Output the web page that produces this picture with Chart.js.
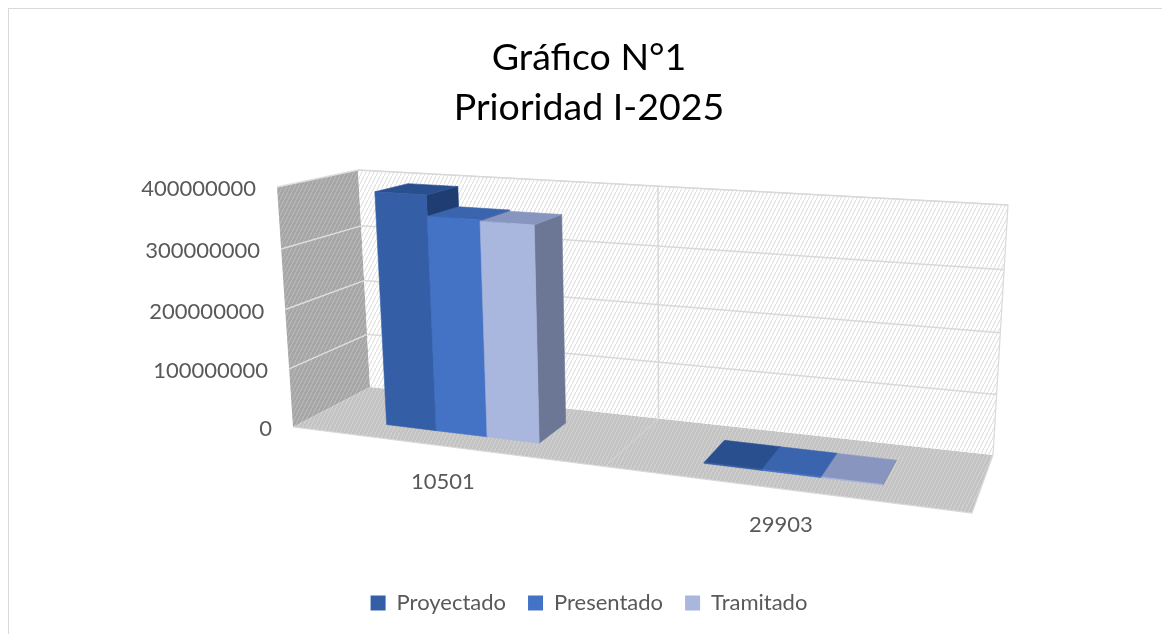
<!DOCTYPE html>
<html>
<head>
<meta charset="utf-8">
<script src="https://cdn.jsdelivr.net/npm/chart.js@4.4.1/dist/chart.umd.min.js"></script>
<style>
  body { margin: 0; background: #fff; }
  #frame { position: absolute; left: 8px; top: 8px; width: 1200px; height: 700px; border: 1px solid #d9d9d9; }
  #chart { position: absolute; left: 0; top: 0; }
</style>
</head>
<body>
<div id="frame"></div>
<canvas id="chart" width="1162" height="634"></canvas>
<script>
const categories = ['10501', '29903'];
const seriesNames = ['Proyectado', 'Presentado', 'Tramitado'];
const proyectado = [392000000, 1500000];
const presentado = [358000000, 1300000];
const tramitado = [356000000, 1100000];
const yTicks = [0, 100000000, 200000000, 300000000, 400000000];
const titleLines = ['Gráfico N°1', 'Prioridad I-2025'];

const frontColors = ['#345EA6', '#4472C4', '#A9B6DE'];
const topColors = ['#2A4F8F', '#3A64AD', '#8896BF'];
const sideColors = ['#1F3D70', '#2F5597', '#6B7794'];
const textGrey = '#595959';

// where the front and back planes of the plot box land on the page (TL, TR, BR, BL)
const frontQuad = [[277, 187], [988, 233], [972, 513], [293, 427]];
const backQuad = [[358, 170], [1008, 205], [993, 455], [370, 387]];
const barDepth = [0.28, 0.72];

// unit square -> quad (projective)
function squareToQuad(q) {
    const x0 = q[0][0], y0 = q[0][1], x1 = q[1][0], y1 = q[1][1];
    const x2 = q[2][0], y2 = q[2][1], x3 = q[3][0], y3 = q[3][1];
    const dx1 = x1 - x2, dx2 = x3 - x2, dx3 = x0 - x1 + x2 - x3;
    const dy1 = y1 - y2, dy2 = y3 - y2, dy3 = y0 - y1 + y2 - y3;
    const den = dx1 * dy2 - dx2 * dy1;
    const g = (dx3 * dy2 - dx2 * dy3) / den;
    const h = (dx1 * dy3 - dx3 * dy1) / den;
    const a = x1 - x0 + g * x1, b = x3 - x0 + h * x3, c = x0;
    const d = y1 - y0 + g * y1, e = y3 - y0 + h * y3, f = y0;
    return function(u, v) {
        const w = g * u + h * v + 1;
        return [(a * u + b * v + c) / w, (d * u + e * v + f) / w];
    };
}

const toFront = squareToQuad(frontQuad);
const toBack = squareToQuad(backQuad);

function projector(area) {
    return function(x, y, z) {
        const u = (x - area.left) / (area.right - area.left);
        const v = (y - area.top) / (area.bottom - area.top);
        const p = toFront(u, v), q = toBack(u, v);
        return [p[0] + (q[0] - p[0]) * z, p[1] + (q[1] - p[1]) * z];
    };
}

function hatch(ctx, bg, fg) {
    const c = document.createElement('canvas');
    c.width = 4;
    c.height = 8;
    const g = c.getContext('2d');
    g.fillStyle = bg;
    g.fillRect(0, 0, 4, 8);
    g.strokeStyle = fg;
    g.lineWidth = 1.2;
    g.beginPath();
    g.moveTo(-1, 10);
    g.lineTo(5, -2);
    g.stroke();
    return ctx.createPattern(c, 'repeat');
}

function face(ctx, pts, fill, edge) {
    ctx.beginPath();
    ctx.moveTo(pts[0][0], pts[0][1]);
    for (let i = 1; i < pts.length; i++) ctx.lineTo(pts[i][0], pts[i][1]);
    ctx.closePath();
    ctx.fillStyle = fill;
    ctx.fill();
    if (edge) {
        ctx.strokeStyle = edge;
        ctx.lineWidth = 0.6;
        ctx.stroke();
    }
}

function line(ctx, a, b, color, width) {
    ctx.beginPath();
    ctx.moveTo(a[0], a[1]);
    ctx.lineTo(b[0], b[1]);
    ctx.strokeStyle = color;
    ctx.lineWidth = width;
    ctx.stroke();
}

const box3d = {
    id: 'box3d',
    beforeDatasetsDraw(chart) {
        const ctx = chart.ctx;
        const a = chart.chartArea;
        const P = projector(a);
        const yScale = chart.scales.y;
        const xScale = chart.scales.x;
        ctx.save();

        // side wall, floor, back wall
        face(ctx, [P(a.left, a.top, 0), P(a.left, a.top, 1), P(a.left, a.bottom, 1), P(a.left, a.bottom, 0)],
            hatch(ctx, '#a6a6a6', '#b9b9b9'));
        face(ctx, [P(a.left, a.bottom, 0), P(a.right, a.bottom, 0), P(a.right, a.bottom, 1), P(a.left, a.bottom, 1)],
            hatch(ctx, '#c3c3c3', '#d2d2d2'));
        face(ctx, [P(a.left, a.top, 1), P(a.right, a.top, 1), P(a.right, a.bottom, 1), P(a.left, a.bottom, 1)],
            hatch(ctx, '#ffffff', '#e2e2e2'));

        yTicks.forEach(function(v) {
            const y = yScale.getPixelForValue(v);
            if (v > 0) {
                line(ctx, P(a.left, y, 1), P(a.right, y, 1), '#d9d9d9', 1.5);
                line(ctx, P(a.left, y, 0), P(a.left, y, 1), '#dedede', 1.5);
            }
        });
        const mid = (xScale.getPixelForValue(0) + xScale.getPixelForValue(1)) / 2;
        line(ctx, P(mid, a.top, 1), P(mid, a.bottom, 1), '#d9d9d9', 1.5);
        line(ctx, P(mid, a.bottom, 0), P(mid, a.bottom, 1), '#d6d6d6', 1);

        // outline of the box
        const outline = [P(a.left, a.top, 1), P(a.right, a.top, 1), P(a.right, a.bottom, 1), P(a.right, a.bottom, 0), P(a.left, a.bottom, 0)];
        ctx.beginPath();
        ctx.moveTo(outline[0][0], outline[0][1]);
        for (let i = 1; i < outline.length; i++) ctx.lineTo(outline[i][0], outline[i][1]);
        ctx.strokeStyle = '#d9d9d9';
        ctx.lineWidth = 1.2;
        ctx.stroke();
        ctx.restore();
    },
    beforeDatasetDraw() {
        return false;
    },
    afterDatasetsDraw(chart) {
        const ctx = chart.ctx;
        const a = chart.chartArea;
        const P = projector(a);
        const z0 = barDepth[0], z1 = barDepth[1];
        const bars = [];
        chart.data.datasets.forEach(function(ds, i) {
            chart.getDatasetMeta(i).data.forEach(function(el) {
                bars.push({ el: el, s: i });
            });
        });
        bars.sort(function(p, q) { return p.el.x - q.el.x; });

        ctx.save();
        bars.forEach(function(b) {
            const el = b.el;
            const xl = el.x - el.width / 2, xr = el.x + el.width / 2;
            const yt = Math.min(el.y, el.base), yb = el.base;
            face(ctx, [P(xr, yt, z0), P(xr, yt, z1), P(xr, yb, z1), P(xr, yb, z0)], sideColors[b.s], sideColors[b.s]);
            face(ctx, [P(xl, yt, z0), P(xr, yt, z0), P(xr, yt, z1), P(xl, yt, z1)], topColors[b.s], topColors[b.s]);
            face(ctx, [P(xl, yt, z0), P(xr, yt, z0), P(xr, yb, z0), P(xl, yb, z0)], frontColors[b.s], frontColors[b.s]);
        });

        // axis texts
        ctx.fillStyle = textGrey;
        ctx.font = '22px Lato';
        ctx.textBaseline = 'middle';
        ctx.textAlign = 'right';
        const yScale = chart.scales.y;
        yTicks.forEach(function(v) {
            const p = P(a.left, yScale.getPixelForValue(v), 0);
            ctx.fillText(String(v), p[0] - 21, p[1] + 2);
        });
        ctx.textAlign = 'center';
        const xScale = chart.scales.x;
        categories.forEach(function(c, i) {
            const p = P(xScale.getPixelForValue(i), a.bottom, 0);
            ctx.fillText(c, p[0], p[1] + 36);
        });
        ctx.restore();
    }
};

const seriesValues = [proyectado, presentado, tramitado];

new Chart(document.getElementById('chart'), {
    type: 'bar',
    data: {
        labels: categories,
        datasets: seriesNames.map(function(name, i) {
            return {
                label: name,
                data: seriesValues[i],
                backgroundColor: frontColors[i],
                borderWidth: 0,
                categoryPercentage: 0.5,
                barPercentage: 1
            };
        })
    },
    options: {
        responsive: false,
        animation: false,
        events: [],
        layout: { padding: { left: 16, right: 0, top: 0, bottom: 10 } },
        scales: {
            x: { display: false },
            y: { display: false, min: 0, max: 400000000 }
        },
        plugins: {
            title: {
                display: true,
                text: titleLines,
                color: '#000000',
                font: { family: 'Lato', size: 37.5, weight: 'normal', lineHeight: 50 / 37.5 },
                padding: { top: 33, bottom: 40 }
            },
            legend: {
                position: 'bottom',
                labels: {
                    color: textGrey,
                    font: { family: 'Lato', size: 22 },
                    boxWidth: 15,
                    boxHeight: 15,
                    padding: 22
                }
            },
            tooltip: { enabled: false }
        }
    },
    plugins: [box3d]
});
</script>
</body>
</html>
